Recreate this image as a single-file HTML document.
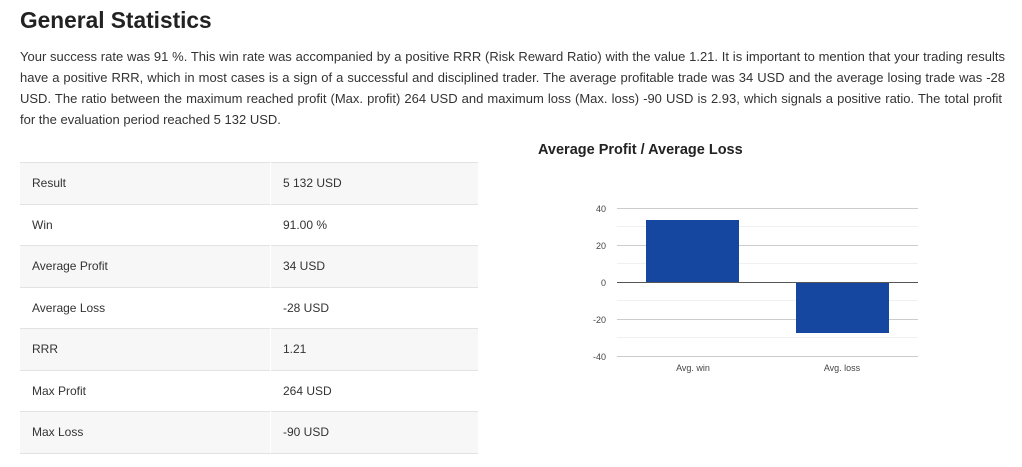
<!DOCTYPE html>
<html><head><meta charset="utf-8"><style>
body{margin:0;background:#fff;font-family:"Liberation Sans",Arial,sans-serif;color:#333;width:1022px;height:467px;overflow:hidden;position:relative}
h1{position:absolute;left:20px;top:7px;margin:0;font-size:22.7px;font-weight:bold;color:#222}
.p{position:absolute;left:20px;width:985px;font-size:13px;line-height:21px}
.j{text-align:justify;text-align-last:justify}
table{position:absolute;left:20px;top:162px;width:458px;border-collapse:collapse;font-size:12px;color:#333}
td{height:40.5px;border-top:1px solid #e2e2e2;padding:0 0 0 12px;vertical-align:middle}
td:first-child{width:238px;border-right:1px solid #fff}
tr:nth-child(odd) td{background:#f7f7f7}
tr:last-child td{border-bottom:1px solid #e2e2e2}
.ct{position:absolute;left:538px;top:142px;font-size:14.5px;font-weight:bold;color:#222}
</style></head><body>
<h1>General Statistics</h1>
<div class="p j" style="top:46px">Your success rate was 91 %. This win rate was accompanied by a positive RRR (Risk Reward Ratio) with the value 1.21. It is important to mention that your trading results</div>
<div class="p j" style="top:67px">have a positive RRR, which in most cases is a sign of a successful and disciplined trader. The average profitable trade was 34 USD and the average losing trade was -28</div>
<div class="p j" style="top:88px;width:982px">USD. The ratio between the maximum reached profit (Max. profit) 264 USD and maximum loss (Max. loss) -90 USD is 2.93, which signals a positive ratio. The total profit</div>
<div class="p" style="top:109px">for the evaluation period reached 5 132 USD.</div>
<table>
<tr><td>Result</td><td>5 132 USD</td></tr>
<tr><td>Win</td><td>91.00 %</td></tr>
<tr><td>Average Profit</td><td>34 USD</td></tr>
<tr><td>Average Loss</td><td>-28 USD</td></tr>
<tr><td>RRR</td><td>1.21</td></tr>
<tr><td>Max Profit</td><td>264 USD</td></tr>
<tr><td>Max Loss</td><td>-90 USD</td></tr>
</table>
<div class="ct">Average Profit / Average Loss</div>
<svg style="position:absolute;left:0;top:0" width="1022" height="467" font-family="Liberation Sans, Arial, sans-serif" font-size="9" fill="#444">
<g stroke="#f0f0f0" stroke-width="1">
<line x1="617" x2="918" y1="226.5" y2="226.5"/><line x1="617" x2="918" y1="263.5" y2="263.5"/>
<line x1="617" x2="918" y1="300.5" y2="300.5"/><line x1="617" x2="918" y1="337.5" y2="337.5"/>
</g>
<g stroke="#ccc" stroke-width="1">
<line x1="617" x2="918" y1="208.5" y2="208.5"/><line x1="617" x2="918" y1="245.5" y2="245.5"/>
<line x1="617" x2="918" y1="319.5" y2="319.5"/><line x1="617" x2="918" y1="356.5" y2="356.5"/>
</g>
<rect x="646" y="220" width="93" height="62" fill="#1547a0"/>
<rect x="796" y="282" width="93" height="51" fill="#1547a0"/>
<line x1="617" x2="918" y1="282.5" y2="282.5" stroke="#555"/>
<g text-anchor="end"><text x="606" y="212">40</text><text x="606" y="249">20</text><text x="606" y="286">0</text><text x="606" y="323">-20</text><text x="606" y="360">-40</text></g>
<g text-anchor="middle"><text x="693" y="371">Avg. win</text><text x="842" y="371">Avg. loss</text></g>
</svg>
</body></html>
